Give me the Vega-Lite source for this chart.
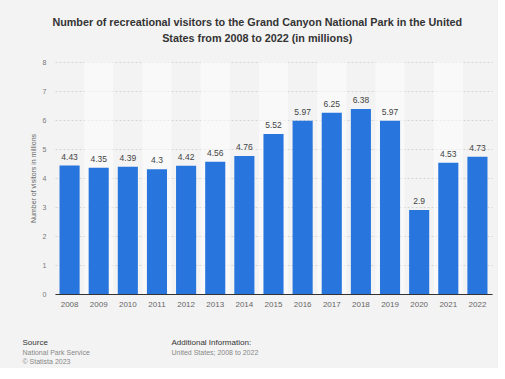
{
  "$schema": "https://vega.github.io/schema/vega-lite/v6.json",
  "background": "#f3f3f3",
  "padding": {"left": 22, "top": 17, "right": 6, "bottom": 2},
  "config": {"view": {"stroke": null}, "font": "Liberation Sans"},
  "title": {
    "text": ["Number of recreational visitors to the Grand Canyon National Park in the United", "States from 2008 to 2022 (in millions)"],
    "anchor": "middle",
    "fontSize": 10.8,
    "fontWeight": "bold",
    "color": "#333333",
    "lineHeight": 16,
    "offset": 14
  },
  "spacing": 31,
  "vconcat": [
    {
      "width": 437,
      "height": 232,
      "data": {"values": [
        {"year": 2008, "visitors": 4.43},
        {"year": 2009, "visitors": 4.35},
        {"year": 2010, "visitors": 4.39},
        {"year": 2011, "visitors": 4.3},
        {"year": 2012, "visitors": 4.42},
        {"year": 2013, "visitors": 4.56},
        {"year": 2014, "visitors": 4.76},
        {"year": 2015, "visitors": 5.52},
        {"year": 2016, "visitors": 5.97},
        {"year": 2017, "visitors": 6.25},
        {"year": 2018, "visitors": 6.38},
        {"year": 2019, "visitors": 5.97},
        {"year": 2020, "visitors": 2.9},
        {"year": 2021, "visitors": 4.53},
        {"year": 2022, "visitors": 4.73}
      ]},
      "encoding": {
        "x": {
          "field": "year",
          "type": "ordinal",
          "scale": {"paddingInner": 0.31, "paddingOuter": 0.155},
          "axis": {
            "title": null,
            "labelAngle": 0,
            "labelFontSize": 8,
            "labelColor": "#666666",
            "domainColor": "#333333",
            "ticks": false,
            "labelPadding": 6
          }
        }
      },
      "resolve": {"scale": {"y": "independent"}, "axis": {"y": "independent"}},
      "layer": [
        {
          "transform": [{"filter": "datum.year % 2 == 1"}],
          "mark": {"type": "bar", "width": {"band": 1.45}, "color": "#ffffff", "opacity": 0.5},
          "encoding": {
            "y": {"datum": 8, "type": "quantitative", "scale": {"domain": [0, 8]}, "axis": null},
            "y2": {"datum": 0}
          }
        },
        {
          "mark": {"type": "bar", "color": "#2876dd"},
          "encoding": {
            "y": {
              "field": "visitors",
              "type": "quantitative",
              "scale": {"domain": [0, 8]},
              "axis": {
                "title": "Number of visitors in millions",
                "titleFontSize": 7,
                "titleFontWeight": "normal",
                "titleColor": "#666666",
                "titlePadding": 6,
                "values": [0, 1, 2, 3, 4, 5, 6, 7, 8],
                "labelFontSize": 7,
                "labelColor": "#777777",
                "labelPadding": 9,
                "domain": false,
                "ticks": false,
                "grid": true,
                "gridColor": "#d4d4d4",
                "gridDash": [2, 2]
              }
            }
          }
        },
        {
          "mark": {"type": "text", "baseline": "bottom", "dy": -4, "fontSize": 8.5, "color": "#444444"},
          "encoding": {
            "y": {"field": "visitors", "type": "quantitative", "scale": {"domain": [0, 8]}, "axis": null},
            "text": {"field": "visitors", "type": "quantitative"}
          }
        }
      ]
    },
    {
      "spacing": 22,
      "hconcat": [
        {
          "width": 94,
          "height": 1,
          "data": {"values": [{}]},
          "mark": {"type": "rect", "opacity": 0},
          "title": {
            "text": "Source",
            "subtitle": ["National Park Service", "© Statista 2023"],
            "anchor": "start",
            "dx": -32.5,
            "fontSize": 8,
            "fontWeight": "normal",
            "color": "#333333",
            "subtitleFontSize": 7,
            "subtitleColor": "#888888",
            "subtitlePadding": 2,
            "subtitleLineHeight": 9,
            "offset": 0
          }
        },
        {
          "width": 150,
          "height": 1,
          "data": {"values": [{}]},
          "mark": {"type": "rect", "opacity": 0},
          "title": {
            "text": "Additional Information:",
            "subtitle": ["United States; 2008 to 2022", " "],
            "anchor": "start",
            "dx": -32.5,
            "fontSize": 8,
            "fontWeight": "normal",
            "color": "#333333",
            "subtitleFontSize": 7,
            "subtitleColor": "#888888",
            "subtitlePadding": 2,
            "subtitleLineHeight": 9,
            "offset": 0
          }
        }
      ]
    }
  ]
}
